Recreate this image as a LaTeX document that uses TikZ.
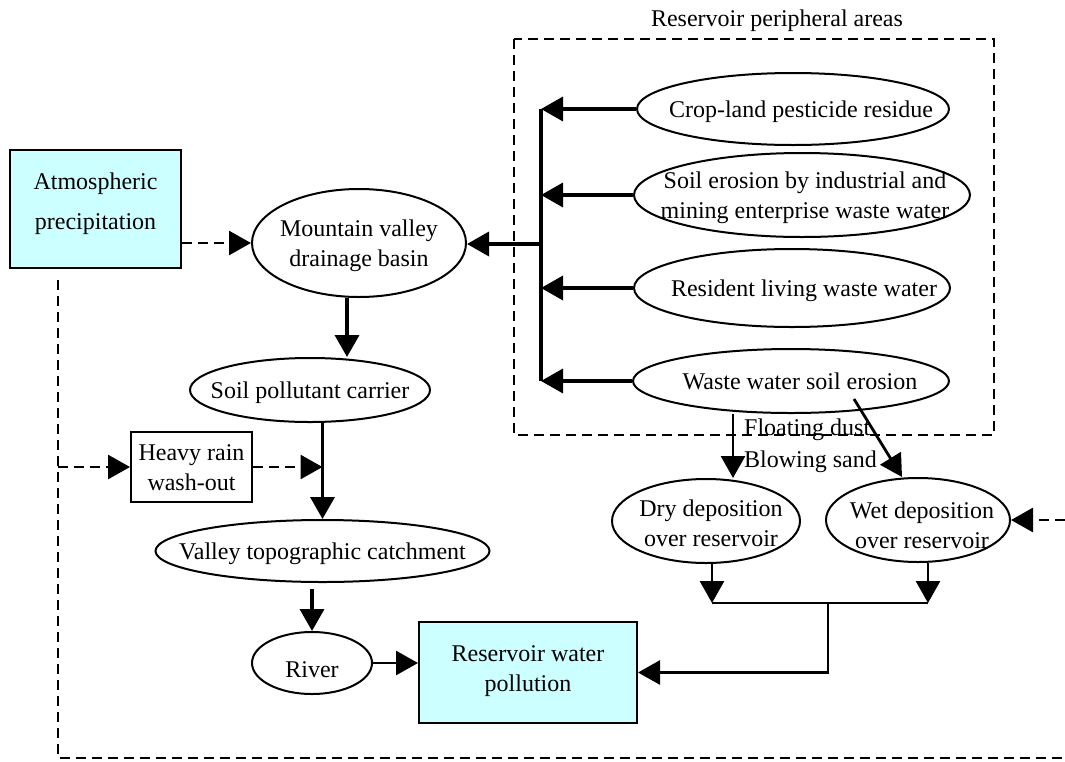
\documentclass[tikz,border=0pt]{standalone}
\usepackage{fontspec}
\setmainfont{Liberation Serif}
\usepackage{xcolor}
\usetikzlibrary{arrows.meta,calc,positioning,shapes.geometric}
\definecolor{boxcyan}{HTML}{CCFFFF}
% text set inside a shape without widening it: [x shift][y shift]{lines}
\NewDocumentCommand{\etxt}{O{0pt}O{0pt}m}{\makebox[0pt]{\hspace*{#1}\raisebox{\dimexpr-.35em+#2\relax}[0pt][0pt]{\begin{tabular}{@{}c@{}}#3\end{tabular}}}}
\tikzset{
  elli/.style 2 args={draw,ellipse,line width=2pt,inner sep=0pt,minimum width=#1,minimum height=#2},
  plainbox/.style={draw,line width=2pt,inner sep=0pt},
  cyanbox/.style={plainbox,fill=boxcyan},
  heavy/.style={line width=3.6pt},
  light/.style={line width=2.8pt},
  dashln/.style={line width=2.8pt,dash pattern=on 10pt off 6pt}
}

\begin{document}
\begin{tikzpicture}[x=1pt,y=-1pt,>={Triangle[length=22pt,width=24pt]},
  every node/.style={font=\fontsize{24}{30}\selectfont}]
  \useasboundingbox (0,0) rectangle (1065,761);
  % left column
  \node[cyanbox,minimum width=171pt,minimum height=118pt] (atm) at (95.5,209) {\etxt[0pt][8pt]{Atmospheric\\[10pt]precipitation}};
  \node[elli={214pt}{108pt}] (mvb) at (359,243) {\etxt{Mountain valley\\drainage basin}};
  \node[elli={240pt}{64pt}] (spc) at (310,390) {\etxt{Soil pollutant carrier}};
  \node[plainbox,minimum width=121pt,minimum height=70pt] (hrw) at (191.5,467) {\etxt{Heavy rain\\wash-out}};
  \node[elli={334pt}{62pt}] (vtc) at (322.5,551) {\etxt{Valley topographic catchment}};
  \node[elli={120pt}{62pt}] (river) at (312,663) {\etxt[0pt][-6pt]{River}};
  \node[cyanbox,minimum width=218pt,minimum height=101pt] (rwp) at (528,672.5) {\etxt[0pt][4pt]{Reservoir water\\pollution}};
  % reservoir peripheral areas
  \draw[dashln] (514,39) rectangle (994,435);
  \node (rpa) at (777,21) {Reservoir peripheral areas};
  \node[elli={312pt}{72pt}] (crop) at (793,109) {\etxt[16pt]{Crop-land pesticide residue}};
  \node[elli={336pt}{84pt}] (soil) at (802,195) {\etxt[6pt]{Soil erosion by industrial and\\mining enterprise waste water}};
  \node[elli={316pt}{78pt}] (res) at (792,288) {\etxt[24pt]{Resident living waste water}};
  \node[elli={316pt}{64pt}] (wws) at (791,381) {\etxt[18pt]{Waste water soil erosion}};
  % deposition
  \node[elli={188pt}{84pt}] (dry) at (706,521) {\etxt[10pt][-2pt]{Dry deposition\\over reservoir}};
  \node[elli={184pt}{84pt}] (wet) at (918,520) {\etxt[8pt][-5pt]{Wet deposition\\over reservoir}};
  \node[anchor=west,inner sep=0pt] (fdust) at (744,430) {Floating dust};
  \node[anchor=west,inner sep=0pt] (bsand) at (744,462) {Blowing sand};

  \coordinate (bus) at (541,244);
  \coordinate (fx) at (733,0);
  \coordinate (barl) at (712,603);
  \coordinate (barr) at (928,603);
  \coordinate (barm) at (828,603);
  \coordinate (dtop) at (58,280);
  \coordinate (dbot) at (58,758);
  \coordinate (dend) at (1065,758);

  % solid connectors
  \draw[heavy] (crop.west -| bus) -- (wws.west -| bus);
  \foreach \n in {crop,soil,res,wws} {\draw[->,heavy] (\n.west) -- (\n.west -| bus);}
  \draw[->,heavy] (bus) -- (bus -| mvb.east);
  \draw[->,heavy] ([xshift=-12pt]mvb.south) -- ([xshift=-12pt]mvb.south |- spc.north);
  \draw[->,heavy] (vtc.north |- spc.south) -- (vtc.north);
  \draw[->,heavy] ([yshift=-6pt]vtc.south -| river.north) -- (river.north);
  \draw[->,light] (river.east) -- (river.east -| rwp.west);
  \draw[->,light] (wws.south -| fx) -- (dry.north -| fx);
  \draw[->,light] ($(wws)+(63,18)$) -- ($(wet.north)+(-16,0)$);
  \draw[->,light] (dry.south -| barl) -- (barl);
  \draw[->,light] (wet.south -| barr) -- (barr);
  \draw[light] (barl) -- (barr);
  \draw[->,light] (barm) |- (rwp.east);
  % dashed connectors
  \draw[dashln] (dtop) -- (dbot) -- (dend);
  \draw[->,dashln] (atm.east |- mvb.west) -- (mvb.west);
  \draw[->,dashln] (hrw.west -| dtop) -- (hrw.west);
  \draw[->,dashln] (hrw.east) -- (hrw.east -| vtc.north);
  \draw[->,dashln] (wet.east -| dend) -- (wet.east);
\end{tikzpicture}
\end{document}
